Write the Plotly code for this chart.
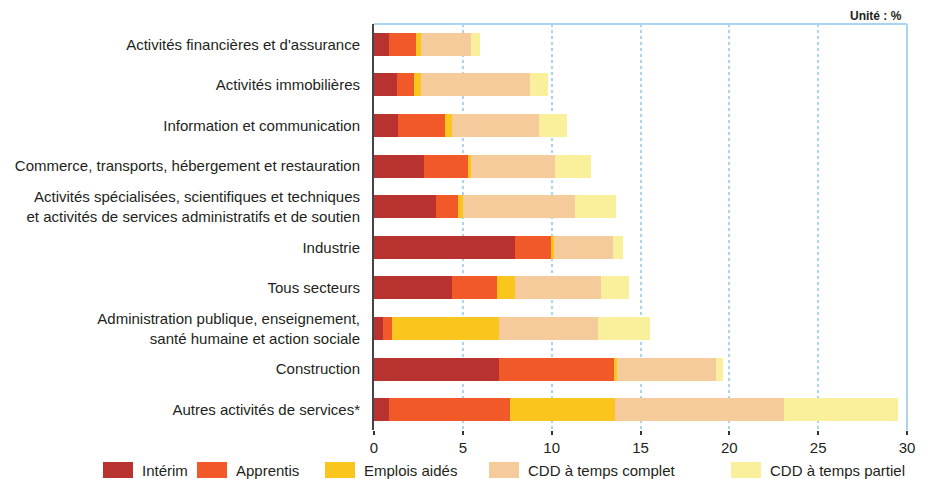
import plotly.graph_objects as go

categories = [
    "Activités financières et d'assurance",
    "Activités immobilières",
    "Information et communication",
    "Commerce, transports, hébergement et restauration",
    "Activités spécialisées, scientifiques et techniques<br>et activités de services administratifs et de soutien",
    "Industrie",
    "Tous secteurs",
    "Administration publique, enseignement,<br>santé humaine et action sociale",
    "Construction",
    "Autres activités de services*",
]

interim = [0.84, 1.29, 1.35, 2.81, 3.49, 7.92, 4.38, 0.51, 7.02, 0.84]
apprentis = [1.52, 0.96, 2.65, 2.48, 1.24, 2.08, 2.53, 0.50, 6.52, 6.80]
emplois_aides = [0.28, 0.39, 0.39, 0.17, 0.28, 0.11, 1.01, 6.01, 0.11, 5.90]
cdd_complet = [2.81, 6.13, 4.90, 4.73, 6.30, 3.37, 4.83, 5.56, 5.62, 9.55]
cdd_partiel = [0.51, 1.01, 1.57, 2.02, 2.31, 0.51, 1.58, 2.93, 0.39, 6.40]

series_names = ["Intérim", "Apprentis", "Emplois aidés", "CDD à temps complet", "CDD à temps partiel"]
series_values = [interim, apprentis, emplois_aides, cdd_complet, cdd_partiel]
colors = ["#B83330", "#F15A28", "#FAC51C", "#F6CB9C", "#FAEF9A"]

x_ticks = [0, 5, 10, 15, 20, 25, 30]

FONT = "Liberation Sans Narrow, Arial Narrow, Liberation Sans, Arial, sans-serif"
TXT = "#231f20"

# page body has an 8px default margin: figure is sized / positioned to compensate
OFF = 8
W, H = 925 - OFF, 479 - OFF
L, R, T, B = 374 - OFF, 925 - 907, 24 - OFF, 479 - 430
PW, PH = W - L - R, H - T - B


def px(x):
    # x in screen pixels -> paper
    return (x - OFF - L) / PW


def py(y):
    # y in screen pixels -> paper
    return (H - B - (y - OFF)) / PH


fig = go.Figure()
for name, vals, col in zip(series_names, series_values, colors):
    fig.add_trace(go.Bar(
        y=categories, x=vals, name=name, orientation="h",
        marker=dict(color=col, line=dict(width=0)), showlegend=False,
    ))

shapes = [
    dict(type="line", xref="paper", yref="paper", x0=0, x1=1, y0=1, y1=1,
         line=dict(color="#a9d5f0", width=2)),
    dict(type="line", xref="paper", yref="paper", x0=1, x1=1, y0=0, y1=1,
         line=dict(color="#a9d5f0", width=2)),
]
annotations = [
    dict(text="<b>Unité : %</b>", xref="paper", yref="paper", x=px(903), y=py(16),
         xanchor="right", yanchor="middle", showarrow=False, borderpad=0,
         font=dict(family=FONT, size=12, color=TXT)),
]

# manual legend (rectangular swatches)
sw_x = [103, 197, 325, 489, 731]
for sx, name, col in zip(sw_x, series_names, colors):
    shapes.append(dict(type="rect", xref="paper", yref="paper",
                       x0=px(sx), x1=px(sx + 30), y0=py(478), y1=py(462),
                       fillcolor=col, line=dict(width=0), layer="above"))
    annotations.append(dict(text=name, xref="paper", yref="paper",
                            x=px(sx + 37), y=py(470), xanchor="left", yanchor="middle",
                            showarrow=False, font=dict(family=FONT, size=15, color=TXT)))

fig.update_layout(
    width=W, height=H,
    margin=dict(l=L, r=R, t=T, b=B, autoexpand=False),
    barmode="stack", bargap=0.43,
    plot_bgcolor="white", paper_bgcolor="white",
    font=dict(family=FONT, size=15, color=TXT),
    shapes=shapes, annotations=annotations,
    xaxis=dict(range=[0, 30], tickvals=x_ticks, ticktext=[str(v) for v in x_ticks],
               showgrid=True, gridcolor="#a9d5f0", griddash="dot", gridwidth=1.5,
               zeroline=False, showline=False, ticks="outside", ticklen=4,
               tickcolor="#333", tickwidth=1.5, tickfont=dict(size=15, color=TXT),
               automargin=False),
    yaxis=dict(autorange="reversed", showline=True, linecolor="#444", linewidth=2,
               showgrid=False, ticks="", ticklabelstandoff=9,
               tickfont=dict(size=15, color=TXT), automargin=False),
)

fig.write_html("out.html")
